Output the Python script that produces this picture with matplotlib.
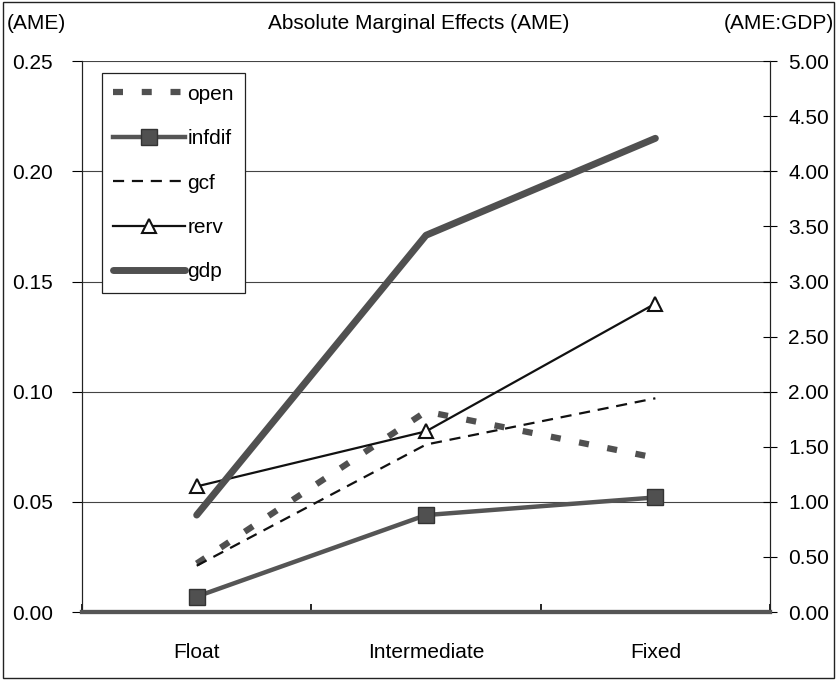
# ── Imports ──────────────────────────────────────────────────────────
import matplotlib
matplotlib.use('Agg')
import matplotlib.pyplot as plt
from matplotlib.patches import Rectangle

plt.rcParams['font.family'] = ['Liberation Sans Narrow', 'Liberation Sans', 'DejaVu Sans']

# ── Data ─────────────────────────────────────────────────────────────
regimes = ['Float', 'Intermediate', 'Fixed']
open_ame = [0.022, 0.091, 0.070]
infdif_ame = [0.007, 0.044, 0.052]
gcf_ame = [0.021, 0.076, 0.097]
rerv_ame = [0.057, 0.082, 0.140]
gdp_ame = [0.88, 3.42, 4.30]   # right axis (AME:GDP)

left_ticks = [0.00, 0.05, 0.10, 0.15, 0.20, 0.25]
right_ticks = [0.0, 0.5, 1.0, 1.5, 2.0, 2.5, 3.0, 3.5, 4.0, 4.5, 5.0]

# ── Figure ────────────────────────────────────────────────────────────
fig = plt.figure(figsize=(8.37, 6.8), dpi=100)
ax = fig.add_axes([0.098, 0.10, 0.822, 0.81])
ax2 = ax.twinx()

x = list(range(len(regimes)))

# gridlines
for t in left_ticks[1:]:
    ax.axhline(t, color='#444444', lw=0.8, zorder=0)

l_open, = ax.plot(x, open_ame, color='#505050', lw=4.5, dashes=(1.6, 3.0),
                  solid_capstyle='butt', dash_capstyle='butt', label='open', zorder=3)
l_inf, = ax.plot(x, infdif_ame, color='#555555', lw=3.2, marker='s', ms=11,
                 mfc='#505050', mec='#333333', label='infdif', zorder=3)
l_gcf, = ax.plot(x, gcf_ame, color='#111111', lw=1.6, ls=(0, (5, 3.5)),
                 label='gcf', zorder=3)
l_rerv, = ax.plot(x, rerv_ame, color='#111111', lw=1.6, marker='^', ms=10,
                  mfc='white', mec='#111111', mew=1.5, label='rerv', zorder=4)
l_gdp, = ax2.plot(x, gdp_ame, color='#505050', lw=5, solid_capstyle='round',
                  label='gdp', zorder=3)

# axes limits and ticks
ax.set_xlim(-0.5, 2.5)
ax.set_ylim(0, 0.25)
ax2.set_ylim(0, 5)
ax.set_yticks(left_ticks)
ax.set_yticklabels([f'{t:.2f}' for t in left_ticks], fontsize=15)
ax2.set_yticks(right_ticks)
ax2.set_yticklabels([f'{t:.2f}' for t in right_ticks], fontsize=15)
ax.set_xticks(x)
ax.set_xticklabels(regimes, fontsize=15)
ax.set_xticks([-0.5, 0.5, 1.5, 2.5], minor=True)
ax.tick_params(axis='x', which='major', length=0, pad=22)
ax.tick_params(axis='x', which='minor', direction='in', length=6, width=1.2)
ax.tick_params(axis='y', direction='out', length=7, width=0.8, pad=14)
ax2.tick_params(axis='y', direction='inout', length=10, width=0.8, pad=8)

for a in (ax, ax2):
    a.spines['top'].set_visible(False)
    a.spines['left'].set_color('#222222')
    a.spines['right'].set_color('#222222')
    a.spines['bottom'].set_color('#555555')
    a.spines['bottom'].set_linewidth(3)
ax.patch.set_visible(False)

# header texts
fig.text(0.5, 0.965, 'Absolute Marginal Effects (AME)', ha='center', va='center', fontsize=15)
fig.text(0.008, 0.965, '(AME)', ha='left', va='center', fontsize=15)
fig.text(0.997, 0.965, '(AME:GDP)', ha='right', va='center', fontsize=15)

# legend
leg = ax2.legend([l_open, l_inf, l_gcf, l_rerv, l_gdp],
                 ['open', 'infdif', 'gcf', 'rerv', 'gdp'],
                 loc='upper left', bbox_to_anchor=(0.029, 0.978),
                 fontsize=15, handlelength=3.45, handletextpad=0.1,
                 labelspacing=1.22, borderpad=0.55, borderaxespad=0,
                 fancybox=False, framealpha=1, edgecolor='#222222')
leg.get_frame().set_linewidth(0.9)

# outer border
fig.patches.append(Rectangle((0.003, 0.003), 0.994, 0.994, transform=fig.transFigure,
                             fill=False, ec='#222222', lw=1))

fig.savefig('out.png', dpi=100)
